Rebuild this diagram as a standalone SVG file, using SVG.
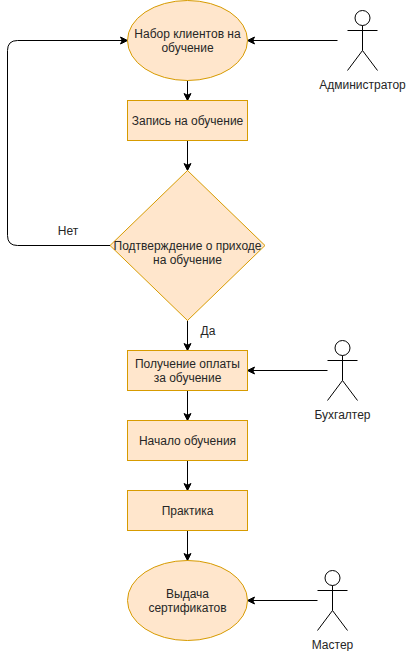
<svg xmlns="http://www.w3.org/2000/svg" width="406" height="651" viewBox="0 0 406 651">
<defs>
<style>
.n{fill:#ffe6cc;stroke:#d79b00;stroke-width:1}
.c{fill:none;stroke:#000;stroke-width:1}
.a{fill:none;stroke:#000;stroke-width:1}
text{font-family:"Liberation Sans",Arial,sans-serif;font-size:12px;fill:#262626;text-anchor:middle}
</style>
<marker id="arr" markerUnits="userSpaceOnUse" markerWidth="10" markerHeight="10" refX="8" refY="5" orient="auto">
<path d="M1 1.5L8 5L1 8.500L2.750 5Z" fill="#000" stroke="#000"/>
</marker>
<g id="stick"><circle cx="15" cy="7.500" r="7.500" fill="#fff"/><path d="M15 15V40M0 20H30M15 40L0 60M15 40L30 60"/></g>
</defs>
<rect width="406" height="651" fill="#fff"/>
<g id="connectors">
<path class="c" marker-end="url(#arr)" d="M187.500 80.500V100.500"/>
<path class="c" marker-end="url(#arr)" d="M187.500 140.500V170.500"/>
<path class="c" marker-end="url(#arr)" d="M187.500 320.500V350.500"/>
<path class="c" marker-end="url(#arr)" d="M187.500 390.500V420.500"/>
<path class="c" marker-end="url(#arr)" d="M187.500 460.500V490.500"/>
<path class="c" marker-end="url(#arr)" d="M187.500 530.500V560.500"/>
<path class="c" marker-end="url(#arr)" d="M110 245.500H17.500Q7.500 245.500 7.500 235.500V50.500Q7.500 40.500 17.500 40.500H127.500"/>
<path class="c" marker-end="url(#arr)" d="M337.500 40.500H247.500"/>
<path class="c" marker-end="url(#arr)" d="M327.500 370.500H247.500"/>
<path class="c" marker-end="url(#arr)" d="M317.500 600.500H247.500"/>
</g>
<g id="n1"><ellipse class="n" cx="187.500" cy="40.500" rx="60" ry="40"/><text x="187.500" y="38">Набор клиентов на</text><text x="187.500" y="52">обучение</text></g>
<g id="n2"><rect class="n" x="127.500" y="100.500" width="120" height="40"/><text x="187.500" y="125">Запись на обучение</text></g>
<g id="n3"><path class="n" d="M187.500 170.500L265 245.500L187.500 320.500L110 245.500Z"/><text x="187.500" y="250">Подтверждение о приходе</text><text x="187.500" y="264">на обучение</text></g>
<g id="n4"><rect class="n" x="127.500" y="350.500" width="120" height="40"/><text x="187.500" y="368">Получение оплаты</text><text x="187.500" y="382">за обучение</text></g>
<g id="n5"><rect class="n" x="127.500" y="420.500" width="120" height="40"/><text x="187.500" y="445">Начало обучения</text></g>
<g id="n6"><rect class="n" x="127.500" y="490.500" width="120" height="40"/><text x="187.500" y="515">Практика</text></g>
<g id="n7"><ellipse class="n" cx="187.500" cy="600.500" rx="60" ry="40"/><text x="187.500" y="598">Выдача</text><text x="187.500" y="612">сертификатов</text></g>
<g id="a1"><use href="#stick" class="a" x="347.500" y="10.500"/><text x="362.500" y="89">Администратор</text></g>
<g id="a2"><use href="#stick" class="a" x="327.500" y="340.500"/><text x="342.500" y="419">Бухгалтер</text></g>
<g id="a3"><use href="#stick" class="a" x="317.500" y="570.500"/><text x="332.500" y="649">Мастер</text></g>
<g id="labels"><text x="68" y="235">Нет</text><text x="208" y="335">Да</text></g>
</svg>
